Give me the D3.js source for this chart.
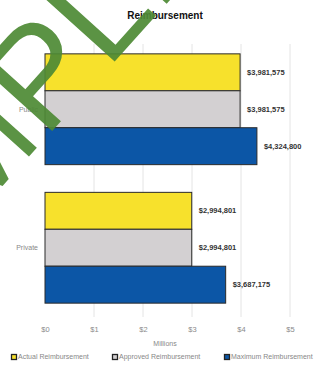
<!DOCTYPE html>
<html>
<head>
<meta charset="utf-8">
<script src="https://cdn.jsdelivr.net/npm/d3@7"></script>
<style>
  html, body { margin: 0; padding: 0; background: #fff; }
  svg { display: block; }
</style>
</head>
<body>
<svg id="chart" width="332" height="367"></svg>
<script>
// Reimbursement by sector, in dollars
const categories = ["Public", "Private"];
const seriesNames = ["Actual Reimbursement", "Approved Reimbursement", "Maximum Reimbursement"];
const actual = [3981575, 2994801];
const approved = [3981575, 2994801];
const maximum = [4324800, 3687175];
const tickValues = [0, 1, 2, 3, 4, 5];          // millions
const tickLabels = ["$0", "$1", "$2", "$3", "$4", "$5"];
const colors = ["#f7e12c", "#d3d0d2", "#0c56a6"];

const series = [actual, approved, maximum];

const svg = d3.select("#chart");
const plotLeft = 45, plotRight = 290, plotTop = 40, plotBottom = 317;

const x = d3.scaleLinear().domain([0, 5]).range([plotLeft, plotRight]);
const y = d3.scaleBand().domain(categories).range([plotTop, plotBottom])
  .paddingInner(0.2).paddingOuter(0.1);
const ySub = d3.scaleBand().domain(seriesNames).range([0, y.bandwidth()]).padding(0);

// Title
svg.append("text")
  .attr("x", 165).attr("y", 19)
  .attr("text-anchor", "middle")
  .attr("font-family", "Liberation Sans, Arial, sans-serif")
  .attr("font-weight", "bold")
  .attr("font-size", 10)
  .attr("fill", "#111")
  .text("Reimbursement");

// Vertical gridlines
svg.append("g").selectAll("line")
  .data(tickValues.slice(1))
  .join("line")
  .attr("x1", d => x(d)).attr("x2", d => x(d))
  .attr("y1", plotTop + 4).attr("y2", plotBottom)
  .attr("stroke", "#e4e4e4")
  .attr("stroke-width", 1);

// Bars
const groups = svg.append("g").selectAll("g")
  .data(categories)
  .join("g")
  .attr("transform", d => `translate(0,${y(d)})`);

groups.each(function (cat, ci) {
  const g = d3.select(this);
  seriesNames.forEach((name, si) => {
    const v = series[si][ci];
    g.append("rect")
      .attr("x", x(0))
      .attr("y", ySub(name))
      .attr("width", x(v / 1e6) - x(0))
      .attr("height", ySub.bandwidth())
      .attr("fill", colors[si])
      .attr("stroke", "#2a2a2a")
      .attr("stroke-width", 1);
    g.append("text")
      .attr("x", x(v / 1e6) + 7)
      .attr("y", ySub(name) + ySub.bandwidth() / 2)
      .attr("dy", "0.35em")
      .attr("font-family", "Liberation Sans, Arial, sans-serif")
      .attr("font-weight", "bold")
      .attr("font-size", 7.5)
      .attr("fill", "#333")
      .text(d3.format("$,")(v));
  });
});

// Category axis labels
svg.append("g").selectAll("text")
  .data(categories)
  .join("text")
  .attr("x", plotLeft - 7)
  .attr("y", d => y(d) + y.bandwidth() / 2)
  .attr("dy", "0.35em")
  .attr("text-anchor", "end")
  .attr("font-family", "Liberation Sans, Arial, sans-serif")
  .attr("font-size", 7)
  .attr("fill", "#888")
  .text(d => d);

// Value axis
const xAxis = d3.axisBottom(x)
  .tickValues(tickValues)
  .tickFormat((d, i) => tickLabels[i])
  .tickSize(0)
  .tickPadding(7);
const ax = svg.append("g")
  .attr("transform", `translate(0,${plotBottom + 3})`)
  .call(xAxis);
ax.select(".domain").remove();
ax.selectAll("text")
  .attr("font-family", "Liberation Sans, Arial, sans-serif")
  .attr("font-size", 7.5)
  .attr("fill", "#8a8a8a");

svg.append("text")
  .attr("x", 165).attr("y", 346)
  .attr("text-anchor", "middle")
  .attr("font-family", "Liberation Sans, Arial, sans-serif")
  .attr("font-size", 7)
  .attr("fill", "#888")
  .text("Millions");

// Legend
const legendX = [11, 112, 224];
const legend = svg.append("g").selectAll("g")
  .data(seriesNames)
  .join("g")
  .attr("transform", (d, i) => `translate(${legendX[i]},357)`);
legend.append("rect")
  .attr("x", 0.5).attr("y", -2.5)
  .attr("width", 5).attr("height", 5)
  .attr("fill", (d, i) => colors[i])
  .attr("stroke", "#222")
  .attr("stroke-width", 1.3);
legend.append("text")
  .attr("x", 7).attr("y", 0)
  .attr("dy", "0.35em")
  .attr("font-family", "Liberation Sans, Arial, sans-serif")
  .attr("font-size", 7)
  .attr("fill", "#888")
  .text(d => d);

// Diagonal watermark across the upper left
const wm = svg.append("g")
  .attr("transform", "translate(107,70) rotate(-48)");
const wmText = wm.append("text")
  .attr("x", 0).attr("y", 0)
  .attr("font-family", "Liberation Sans, Arial, sans-serif")
  .attr("font-size", 140)
  .attr("fill", "#4e8a35")
  .attr("opacity", 0.92)
  .text("SAMPLE");
const lead = wmText.node().getSubStringLength(0, 4);
wmText.attr("x", -lead);
</script>
</body>
</html>
